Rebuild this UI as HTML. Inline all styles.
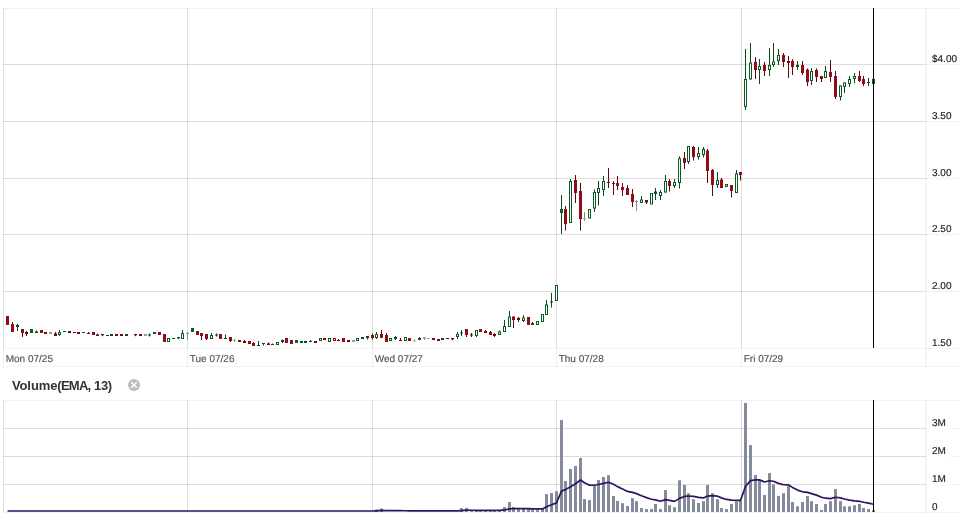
<!DOCTYPE html>
<html lang="en"><head><meta charset="utf-8"><title>Chart</title>
<style>
html,body{margin:0;padding:0;background:#fff;}
body{width:962px;height:517px;overflow:hidden;position:relative;font-family:"Liberation Sans",Arial,sans-serif;}
svg{position:absolute;left:0;top:0;display:block;}
.ax{font-family:"Liberation Sans",Arial,sans-serif;font-size:10px;fill:#1c1c1c;stroke:#1c1c1c;stroke-width:0.15px;text-rendering:geometricPrecision;}
.dt{font-family:"Liberation Sans",Arial,sans-serif;font-size:10px;fill:#555;stroke:#555;stroke-width:0.15px;text-rendering:geometricPrecision;}
.ttl{font-family:"Liberation Sans",Arial,sans-serif;font-size:13px;font-weight:bold;fill:#333;}
</style></head><body>
<svg width="962" height="517" viewBox="0 0 962 517">

<g shape-rendering="crispEdges" fill="#000">
<rect x="3" y="8" width="957" height="1" fill-opacity="0.05"/>
<rect x="3" y="64" width="923" height="1" fill-opacity="0.135"/>
<rect x="926" y="64" width="34" height="1" fill-opacity="0.055"/>
<rect x="3" y="121" width="923" height="1" fill-opacity="0.135"/>
<rect x="926" y="121" width="34" height="1" fill-opacity="0.055"/>
<rect x="3" y="178" width="923" height="1" fill-opacity="0.135"/>
<rect x="926" y="178" width="34" height="1" fill-opacity="0.055"/>
<rect x="3" y="234" width="923" height="1" fill-opacity="0.135"/>
<rect x="926" y="234" width="34" height="1" fill-opacity="0.055"/>
<rect x="3" y="291" width="923" height="1" fill-opacity="0.135"/>
<rect x="926" y="291" width="34" height="1" fill-opacity="0.055"/>
<rect x="3" y="348" width="957" height="1" fill-opacity="0.045"/>
<rect x="3" y="366" width="957" height="1" fill-opacity="0.04"/>
<rect x="3" y="8" width="1" height="340" fill-opacity="0.135"/>
<rect x="3" y="348" width="1" height="19" fill-opacity="0.06"/>
<rect x="187" y="8" width="1" height="340" fill-opacity="0.135"/>
<rect x="187" y="348" width="1" height="19" fill-opacity="0.06"/>
<rect x="372" y="8" width="1" height="340" fill-opacity="0.135"/>
<rect x="372" y="348" width="1" height="19" fill-opacity="0.06"/>
<rect x="556" y="8" width="1" height="340" fill-opacity="0.135"/>
<rect x="556" y="348" width="1" height="19" fill-opacity="0.06"/>
<rect x="741" y="8" width="1" height="340" fill-opacity="0.135"/>
<rect x="741" y="348" width="1" height="19" fill-opacity="0.06"/>
<rect x="925" y="8" width="2" height="359" fill-opacity="0.04"/>
<rect x="3" y="400" width="957" height="1" fill-opacity="0.045"/>
<rect x="3" y="428" width="923" height="1" fill-opacity="0.135"/>
<rect x="950" y="428" width="10" height="1" fill-opacity="0.055"/>
<rect x="3" y="456" width="923" height="1" fill-opacity="0.135"/>
<rect x="950" y="456" width="10" height="1" fill-opacity="0.055"/>
<rect x="3" y="484" width="923" height="1" fill-opacity="0.135"/>
<rect x="950" y="484" width="10" height="1" fill-opacity="0.055"/>
<rect x="3" y="512" width="957" height="1" fill-opacity="0.055"/>
<rect x="3" y="400" width="1" height="112" fill-opacity="0.135"/>
<rect x="187" y="400" width="1" height="112" fill-opacity="0.135"/>
<rect x="372" y="400" width="1" height="112" fill-opacity="0.135"/>
<rect x="556" y="400" width="1" height="112" fill-opacity="0.135"/>
<rect x="741" y="400" width="1" height="112" fill-opacity="0.135"/>
<rect x="925" y="400" width="2" height="113" fill-opacity="0.04"/>
</g>
<text class="ax" x="932" y="62.4">$4.00</text>
<text class="ax" x="932" y="119.4">3.50</text>
<text class="ax" x="932" y="176.4">3.00</text>
<text class="ax" x="932" y="232.4">2.50</text>
<text class="ax" x="932" y="289.4">2.00</text>
<text class="ax" x="932" y="346.4">1.50</text>
<text class="ax" x="932" y="425.5">3M</text>
<text class="ax" x="932" y="453.5">2M</text>
<text class="ax" x="932" y="481.5">1M</text>
<text class="ax" x="932" y="509.5">0</text>
<text class="dt" x="5.7" y="361.9">Mon 07/25</text>
<text class="dt" x="189.8" y="361.9">Tue 07/26</text>
<text class="dt" x="374.7" y="361.9">Wed 07/27</text>
<text class="dt" x="558.7" y="361.9">Thu 07/28</text>
<text class="dt" x="743.7" y="361.9">Fri 07/29</text>
<text class="ttl" x="11.9" y="390.2"><tspan style="letter-spacing:-0.09px">Volume</tspan><tspan style="letter-spacing:-0.75px">(EMA</tspan><tspan style="letter-spacing:-0.38px">, 13)</tspan></text>
<circle cx="134" cy="385" r="6" fill="#bdbdbd"/><path d="M131.2 382.2 L136.8 387.8 M136.8 382.2 L131.2 387.8" stroke="#fff" stroke-width="1.3" fill="none"/>
<g fill="#848b9c">
<rect x="375" y="509.5" width="3" height="2.5"/>
<rect x="380" y="508.5" width="3" height="3.5"/>
<rect x="460" y="508" width="3" height="4"/>
<rect x="465" y="508" width="3" height="4"/>
<rect x="470" y="510.6" width="3" height="1.4"/>
<rect x="475" y="510.6" width="3" height="1.4"/>
<rect x="479" y="510.6" width="3" height="1.4"/>
<rect x="484" y="510.6" width="3" height="1.4"/>
<rect x="489" y="510.6" width="3" height="1.4"/>
<rect x="493" y="510.6" width="3" height="1.4"/>
<rect x="498" y="510.6" width="3" height="1.4"/>
<rect x="503" y="507" width="3" height="5"/>
<rect x="508" y="502" width="3" height="10"/>
<rect x="512" y="507" width="3" height="5"/>
<rect x="517" y="509" width="3" height="3"/>
<rect x="522" y="509" width="3" height="3"/>
<rect x="527" y="509" width="3" height="3"/>
<rect x="531" y="509.5" width="3" height="2.5"/>
<rect x="536" y="509.5" width="3" height="2.5"/>
<rect x="541" y="509" width="3" height="3"/>
<rect x="545" y="494" width="3" height="18"/>
<rect x="550" y="493" width="3" height="19"/>
<rect x="555" y="491.2" width="3" height="20.8"/>
<rect x="560" y="420" width="3" height="92"/>
<rect x="564" y="481" width="3" height="31"/>
<rect x="569" y="469" width="3" height="43"/>
<rect x="574" y="466" width="3" height="46"/>
<rect x="579" y="458" width="3" height="54"/>
<rect x="583" y="499" width="3" height="13"/>
<rect x="588" y="500" width="3" height="12"/>
<rect x="593" y="485.6" width="3" height="26.4"/>
<rect x="597" y="480" width="3" height="32"/>
<rect x="602" y="477" width="3" height="35"/>
<rect x="607" y="475.2" width="3" height="36.8"/>
<rect x="612" y="496" width="3" height="16"/>
<rect x="616" y="501" width="3" height="11"/>
<rect x="621" y="503.2" width="3" height="8.8"/>
<rect x="626" y="506" width="3" height="6"/>
<rect x="631" y="498.2" width="3" height="13.8"/>
<rect x="635" y="501.2" width="3" height="10.8"/>
<rect x="640" y="508" width="3" height="4"/>
<rect x="645" y="509" width="3" height="3"/>
<rect x="650" y="509" width="3" height="3"/>
<rect x="654" y="504" width="3" height="8"/>
<rect x="659" y="509" width="3" height="3"/>
<rect x="664" y="490" width="3" height="22"/>
<rect x="668" y="505.3" width="3" height="6.7"/>
<rect x="673" y="507.2" width="3" height="4.8"/>
<rect x="678" y="480.2" width="3" height="31.8"/>
<rect x="683" y="485" width="3" height="27"/>
<rect x="687" y="493.2" width="3" height="18.8"/>
<rect x="692" y="499.2" width="3" height="12.8"/>
<rect x="697" y="503" width="3" height="9"/>
<rect x="702" y="501.2" width="3" height="10.8"/>
<rect x="706" y="485" width="3" height="27"/>
<rect x="711" y="493.2" width="3" height="18.8"/>
<rect x="716" y="499.2" width="3" height="12.8"/>
<rect x="720" y="508" width="3" height="4"/>
<rect x="725" y="509" width="3" height="3"/>
<rect x="730" y="504" width="3" height="8"/>
<rect x="735" y="501.5" width="3" height="10.5"/>
<rect x="739" y="501" width="3" height="11"/>
<rect x="744" y="403" width="3" height="109"/>
<rect x="749" y="445.2" width="3" height="66.8"/>
<rect x="754" y="475" width="3" height="37"/>
<rect x="758" y="480.2" width="3" height="31.8"/>
<rect x="763" y="495" width="3" height="17"/>
<rect x="768" y="473" width="3" height="39"/>
<rect x="772" y="484.3" width="3" height="27.7"/>
<rect x="777" y="496" width="3" height="16"/>
<rect x="782" y="493.2" width="3" height="18.8"/>
<rect x="787" y="486.2" width="3" height="25.8"/>
<rect x="791" y="502" width="3" height="10"/>
<rect x="796" y="506.3" width="3" height="5.7"/>
<rect x="801" y="502" width="3" height="10"/>
<rect x="806" y="496" width="3" height="16"/>
<rect x="810" y="501.2" width="3" height="10.8"/>
<rect x="815" y="504" width="3" height="8"/>
<rect x="820" y="510" width="3" height="2"/>
<rect x="824" y="504" width="3" height="8"/>
<rect x="829" y="501.2" width="3" height="10.8"/>
<rect x="834" y="489" width="3" height="23"/>
<rect x="839" y="501.2" width="3" height="10.8"/>
<rect x="843" y="506.3" width="3" height="5.7"/>
<rect x="848" y="506.3" width="3" height="5.7"/>
<rect x="853" y="505.3" width="3" height="6.7"/>
<rect x="858" y="504" width="3" height="8"/>
<rect x="862" y="508" width="3" height="4"/>
<rect x="867" y="509" width="3" height="3"/>
<rect x="872" y="510.3" width="3" height="1.7"/>
</g>
<path d="M7.5 511 L12.5 511 L17.5 511 L22.5 511 L26.5 511 L31.5 511 L36.5 511 L41.5 511 L45.5 511 L50.5 511 L55.5 511 L59.5 511 L64.5 511 L69.5 511 L74.5 511 L78.5 511 L83.5 511 L88.5 511 L93.5 511 L97.5 511 L102.5 511 L107.5 511 L111.5 511 L116.5 511 L121.5 511 L126.5 511 L130.5 511 L135.5 511 L140.5 511 L145.5 511 L149.5 511 L154.5 511 L159.5 511 L164.5 511 L168.5 511 L173.5 511 L178.5 511 L182.5 511 L187.5 511 L192.5 511 L197.5 511 L201.5 511 L206.5 511 L211.5 511 L216.5 511 L220.5 511 L225.5 511 L230.5 511 L234.5 511 L239.5 511 L244.5 511 L249.5 511 L253.5 511 L258.5 511 L263.5 511 L268.5 511 L272.5 511 L277.5 511 L282.5 511 L286.5 511 L291.5 511 L296.5 511 L301.5 511 L305.5 511 L310.5 511 L315.5 511 L320.5 511 L324.5 511 L329.5 511 L334.5 511 L338.5 511 L343.5 511 L348.5 511 L353.5 511 L357.5 511 L362.5 511 L367.5 511 L372.5 511 L376.5 510.79 L381.5 510.46 L386.5 510.54 L390.5 510.6 L395.5 510.66 L400.5 510.71 L405.5 510.75 L409.5 510.79 L414.5 510.82 L419.5 510.84 L424.5 510.86 L428.5 510.88 L433.5 510.9 L438.5 510.91 L442.5 510.93 L447.5 510.94 L452.5 510.95 L457.5 510.95 L461.5 510.53 L466.5 510.17 L471.5 510.23 L476.5 510.28 L480.5 510.33 L485.5 510.37 L490.5 510.4 L494.5 510.43 L499.5 510.45 L504.5 509.96 L509.5 508.82 L513.5 508.56 L518.5 508.63 L523.5 508.68 L528.5 508.72 L532.5 508.84 L537.5 508.93 L542.5 508.94 L546.5 506.81 L551.5 504.83 L556.5 502.89 L561.5 491.05 L565.5 489.61 L570.5 486.67 L575.5 483.71 L580.5 480.04 L584.5 482.75 L589.5 485.21 L594.5 485.27 L598.5 484.52 L603.5 483.44 L608.5 482.26 L613.5 484.23 L617.5 486.62 L622.5 488.99 L627.5 491.42 L632.5 492.39 L636.5 493.65 L641.5 495.7 L646.5 497.6 L651.5 499.23 L655.5 499.91 L660.5 501.21 L665.5 499.61 L669.5 500.42 L674.5 501.39 L679.5 498.36 L684.5 496.45 L688.5 495.99 L693.5 496.45 L698.5 497.38 L703.5 497.93 L707.5 496.08 L712.5 495.67 L717.5 496.17 L721.5 497.86 L726.5 499.45 L731.5 500.1 L736.5 500.3 L740.5 500.4 L745.5 486.49 L750.5 480.59 L755.5 479.79 L759.5 479.85 L764.5 482.01 L769.5 480.73 L773.5 481.24 L778.5 483.35 L783.5 484.75 L788.5 484.96 L792.5 487.39 L797.5 490.1 L802.5 491.8 L807.5 492.4 L811.5 493.65 L816.5 495.13 L821.5 497.26 L825.5 498.22 L830.5 498.65 L835.5 497.27 L840.5 497.83 L844.5 499.04 L849.5 500.08 L854.5 500.82 L859.5 501.28 L863.5 502.24 L868.5 503.2 L873.5 504.22" fill="none" stroke="#2e1460" stroke-width="1.7" stroke-linejoin="round" stroke-linecap="butt"/>
<g>
<rect x="6" y="316" width="3" height="9" fill="#920c18"/>
<rect x="12" y="322" width="1" height="10" fill="#5e0810"/>
<rect x="11" y="324" width="3" height="8" fill="#920c18"/>
<rect x="17" y="323.8" width="1" height="7.2" fill="#0a4a1c"/>
<rect x="16" y="325" width="3" height="2" fill="#0a4f1e"/>
<rect x="22" y="329" width="1" height="8" fill="#5e0810"/>
<rect x="21" y="329" width="3" height="4" fill="#920c18"/>
<rect x="26" y="331" width="1" height="5" fill="#5e0810"/>
<rect x="25" y="332" width="3" height="2" fill="#6e0a12"/>
<rect x="30" y="329" width="3" height="4" fill="#0b5a22"/>
<rect x="36" y="330.5" width="1" height="2.5" fill="#0a4a1c"/>
<rect x="35" y="331.5" width="3" height="1.5" fill="#0a4f1e"/>
<rect x="40" y="330" width="3" height="3" fill="#920c18"/>
<rect x="44" y="332" width="3" height="2" fill="#6e0a12"/>
<rect x="49" y="332" width="3" height="2" fill="#999999"/>
<rect x="55" y="332" width="1" height="4" fill="#5e0810"/>
<rect x="54" y="333.5" width="3" height="2.5" fill="#6e0a12"/>
<rect x="59" y="330" width="1" height="6" fill="#0a4a1c"/>
<rect x="58" y="332" width="3" height="3" fill="#0b5a22"/>
<rect x="59" y="333" width="1" height="1" fill="#fff"/>
<rect x="63" y="331" width="3" height="1" fill="#0a4f1e"/>
<rect x="68" y="331" width="3" height="2" fill="#6e0a12"/>
<rect x="73" y="332" width="3" height="1" fill="#6e0a12"/>
<rect x="77" y="332" width="3" height="2" fill="#6e0a12"/>
<rect x="82" y="332" width="3" height="1" fill="#0a4f1e"/>
<rect x="88" y="332" width="1" height="2" fill="#5e0810"/>
<rect x="87" y="333" width="3" height="1" fill="#6e0a12"/>
<rect x="92" y="332" width="3" height="3" fill="#920c18"/>
<rect x="97" y="333.5" width="1" height="2.5" fill="#5e0810"/>
<rect x="96" y="334.5" width="3" height="1.5" fill="#6e0a12"/>
<rect x="102" y="334" width="1" height="2.2" fill="#0a4a1c"/>
<rect x="101" y="334" width="3" height="1.3" fill="#0a4f1e"/>
<rect x="106" y="335" width="3" height="1" fill="#6e0a12"/>
<rect x="110" y="334" width="3" height="2" fill="#0a4f1e"/>
<rect x="115" y="334" width="3" height="2" fill="#6e0a12"/>
<rect x="120" y="334" width="3" height="2" fill="#6e0a12"/>
<rect x="125" y="334" width="3" height="2" fill="#0a4f1e"/>
<rect x="135" y="334" width="1" height="2.2" fill="#5e0810"/>
<rect x="134" y="334" width="3" height="1.3" fill="#6e0a12"/>
<rect x="139" y="334" width="3" height="2" fill="#6e0a12"/>
<rect x="144" y="334" width="3" height="2" fill="#999999"/>
<rect x="149" y="333.5" width="1" height="3" fill="#0a4a1c"/>
<rect x="148" y="334.5" width="3" height="1" fill="#0a4f1e"/>
<rect x="153" y="332" width="3" height="2" fill="#0a4f1e"/>
<rect x="158" y="332" width="3" height="3" fill="#920c18"/>
<rect x="163" y="334" width="3" height="8" fill="#920c18"/>
<rect x="167" y="338" width="3" height="4" fill="#0b5a22"/>
<rect x="168" y="339" width="1" height="2" fill="#fff"/>
<rect x="172" y="338" width="3" height="1" fill="#0a4f1e"/>
<rect x="178" y="337" width="1" height="2.2" fill="#0a4a1c"/>
<rect x="177" y="337" width="3" height="1.3" fill="#0a4f1e"/>
<rect x="182" y="330" width="1" height="9" fill="#0a4a1c"/>
<rect x="181" y="333" width="3" height="6" fill="#0b5a22"/>
<rect x="182" y="334" width="1" height="4" fill="#fff"/>
<rect x="187" y="332" width="1" height="7.5" fill="#8a8a8a"/>
<rect x="186" y="333" width="3" height="1" fill="#999999"/>
<rect x="191" y="328" width="3" height="4" fill="#0b5a22"/>
<rect x="196" y="331" width="3" height="4" fill="#920c18"/>
<rect x="201" y="333" width="1" height="7" fill="#5e0810"/>
<rect x="200" y="333" width="3" height="3" fill="#920c18"/>
<rect x="206" y="334" width="1" height="6" fill="#5e0810"/>
<rect x="205" y="334" width="3" height="5" fill="#920c18"/>
<rect x="211" y="333" width="1" height="6" fill="#0a4a1c"/>
<rect x="210" y="335" width="3" height="4" fill="#0b5a22"/>
<rect x="211" y="336" width="1" height="2" fill="#fff"/>
<rect x="216" y="333.5" width="1" height="3" fill="#0a4a1c"/>
<rect x="215" y="334.5" width="3" height="1" fill="#0a4f1e"/>
<rect x="219" y="334" width="3" height="5" fill="#920c18"/>
<rect x="225" y="334.5" width="1" height="4.5" fill="#0a4a1c"/>
<rect x="224" y="338" width="3" height="1" fill="#0a4f1e"/>
<rect x="230" y="337" width="1" height="5" fill="#5e0810"/>
<rect x="229" y="337" width="3" height="4" fill="#920c18"/>
<rect x="234" y="339.5" width="1" height="2.5" fill="#8a8a8a"/>
<rect x="233" y="339.5" width="3" height="1" fill="#999999"/>
<rect x="238" y="340" width="3" height="2" fill="#6e0a12"/>
<rect x="244" y="340" width="1" height="3" fill="#5e0810"/>
<rect x="243" y="341" width="3" height="2" fill="#6e0a12"/>
<rect x="248" y="341" width="3" height="3" fill="#920c18"/>
<rect x="253" y="342" width="1" height="4" fill="#5e0810"/>
<rect x="252" y="343" width="3" height="3" fill="#920c18"/>
<rect x="258" y="341" width="1" height="5" fill="#0a4a1c"/>
<rect x="257" y="345" width="3" height="1" fill="#0a4f1e"/>
<rect x="263" y="343" width="1" height="2.5" fill="#0a4a1c"/>
<rect x="262" y="343" width="3" height="1" fill="#0a4f1e"/>
<rect x="268" y="342.5" width="1" height="2.5" fill="#5e0810"/>
<rect x="267" y="343.5" width="3" height="1.5" fill="#6e0a12"/>
<rect x="272" y="343.5" width="1" height="1.5" fill="#0a4a1c"/>
<rect x="271" y="344" width="3" height="1" fill="#0a4f1e"/>
<rect x="276" y="342" width="3" height="3" fill="#0b5a22"/>
<rect x="277" y="343" width="1" height="1" fill="#fff"/>
<rect x="282" y="339.5" width="1" height="3.5" fill="#0a4a1c"/>
<rect x="281" y="340" width="3" height="2" fill="#0a4f1e"/>
<rect x="285" y="338" width="3" height="5" fill="#920c18"/>
<rect x="290" y="340" width="3" height="4" fill="#920c18"/>
<rect x="295" y="340" width="3" height="3" fill="#0b5a22"/>
<rect x="300" y="341" width="3" height="2" fill="#0a4f1e"/>
<rect x="304" y="341" width="3" height="2" fill="#0a4f1e"/>
<rect x="310" y="340" width="1" height="2" fill="#0a4a1c"/>
<rect x="309" y="341" width="3" height="1" fill="#0a4f1e"/>
<rect x="314" y="341" width="3" height="2" fill="#6e0a12"/>
<rect x="319" y="338" width="3" height="3" fill="#0b5a22"/>
<rect x="320" y="339" width="1" height="1" fill="#fff"/>
<rect x="323" y="338" width="3" height="2" fill="#6e0a12"/>
<rect x="328" y="338" width="3" height="4" fill="#0b5a22"/>
<rect x="329" y="339" width="1" height="2" fill="#fff"/>
<rect x="333" y="338" width="3" height="3" fill="#920c18"/>
<rect x="334" y="339" width="1" height="1" fill="#fff"/>
<rect x="338" y="339" width="1" height="2" fill="#5e0810"/>
<rect x="337" y="340" width="3" height="1" fill="#6e0a12"/>
<rect x="342" y="338" width="3" height="4" fill="#920c18"/>
<rect x="347" y="340" width="3" height="2" fill="#6e0a12"/>
<rect x="352" y="340" width="3" height="2" fill="#999999"/>
<rect x="356" y="338" width="3" height="3" fill="#0b5a22"/>
<rect x="357" y="339" width="1" height="1" fill="#fff"/>
<rect x="361" y="337" width="3" height="2" fill="#0a4f1e"/>
<rect x="367" y="336" width="1" height="3.5" fill="#0a4a1c"/>
<rect x="366" y="336" width="3" height="2" fill="#0a4f1e"/>
<rect x="372" y="333.5" width="1" height="6" fill="#5e0810"/>
<rect x="371" y="335" width="3" height="3" fill="#920c18"/>
<rect x="376" y="332" width="1" height="7" fill="#0a4a1c"/>
<rect x="375" y="334" width="3" height="4" fill="#0b5a22"/>
<rect x="376" y="335" width="1" height="2" fill="#fff"/>
<rect x="381" y="330" width="1" height="8" fill="#5e0810"/>
<rect x="380" y="334" width="3" height="4" fill="#920c18"/>
<rect x="386" y="333" width="1" height="9" fill="#5e0810"/>
<rect x="385" y="335" width="3" height="7" fill="#920c18"/>
<rect x="389" y="338" width="3" height="3" fill="#0b5a22"/>
<rect x="390" y="339" width="1" height="1" fill="#fff"/>
<rect x="395" y="336" width="1" height="4" fill="#0a4a1c"/>
<rect x="394" y="337" width="3" height="2" fill="#0a4f1e"/>
<rect x="400" y="338" width="1" height="3" fill="#5e0810"/>
<rect x="399" y="340" width="3" height="1" fill="#6e0a12"/>
<rect x="404" y="337" width="3" height="4" fill="#0b5a22"/>
<rect x="405" y="338" width="1" height="2" fill="#fff"/>
<rect x="408" y="338" width="3" height="3" fill="#920c18"/>
<rect x="414" y="339.3" width="1" height="1.9" fill="#86ad95"/>
<rect x="413" y="340.4" width="3" height="1" fill="#86ad95"/>
<rect x="419" y="337" width="1" height="3" fill="#0a4a1c"/>
<rect x="418" y="338" width="3" height="2" fill="#0a4f1e"/>
<rect x="424" y="337" width="1" height="3" fill="#8a8a8a"/>
<rect x="423" y="337" width="3" height="1.5" fill="#999999"/>
<rect x="427" y="338" width="3" height="1" fill="#999999"/>
<rect x="432" y="338" width="3" height="2" fill="#6e0a12"/>
<rect x="437" y="339" width="3" height="2" fill="#6e0a12"/>
<rect x="441" y="338" width="3" height="2" fill="#0a4f1e"/>
<rect x="446" y="338" width="3" height="1" fill="#6e0a12"/>
<rect x="452" y="338" width="1" height="2.2" fill="#5e0810"/>
<rect x="451" y="338" width="3" height="1.3" fill="#6e0a12"/>
<rect x="457" y="332" width="1" height="7" fill="#0a4a1c"/>
<rect x="456" y="334" width="3" height="3" fill="#0b5a22"/>
<rect x="457" y="335" width="1" height="1" fill="#fff"/>
<rect x="461" y="330" width="1" height="6" fill="#0a4a1c"/>
<rect x="460" y="332.5" width="3" height="1" fill="#0a4f1e"/>
<rect x="466" y="329" width="1" height="8" fill="#5e0810"/>
<rect x="465" y="329" width="3" height="6" fill="#920c18"/>
<rect x="471" y="333" width="1" height="4" fill="#5e0810"/>
<rect x="470" y="334.5" width="3" height="1" fill="#6e0a12"/>
<rect x="476" y="330" width="1" height="7" fill="#0a4a1c"/>
<rect x="475" y="330" width="3" height="6" fill="#0b5a22"/>
<rect x="476" y="331" width="1" height="4" fill="#fff"/>
<rect x="479" y="329" width="3" height="3" fill="#920c18"/>
<rect x="485" y="330" width="1" height="3" fill="#5e0810"/>
<rect x="484" y="331" width="3" height="2" fill="#6e0a12"/>
<rect x="490" y="331" width="1" height="4" fill="#5e0810"/>
<rect x="489" y="332" width="3" height="3" fill="#920c18"/>
<rect x="494" y="333" width="1" height="4" fill="#5e0810"/>
<rect x="493" y="334" width="3" height="2" fill="#6e0a12"/>
<rect x="499" y="330.5" width="1" height="4.5" fill="#0a4a1c"/>
<rect x="498" y="331.5" width="3" height="3.5" fill="#0b5a22"/>
<rect x="499" y="332.5" width="1" height="1.5" fill="#fff"/>
<rect x="504" y="320" width="1" height="12" fill="#0a4a1c"/>
<rect x="503" y="326" width="3" height="6" fill="#0b5a22"/>
<rect x="504" y="327" width="1" height="4" fill="#fff"/>
<rect x="509" y="311" width="1" height="16" fill="#0a4a1c"/>
<rect x="508" y="316.5" width="3" height="10.5" fill="#0b5a22"/>
<rect x="509" y="317.5" width="1" height="8.5" fill="#fff"/>
<rect x="513" y="316.5" width="1" height="11.5" fill="#5e0810"/>
<rect x="512" y="316.5" width="3" height="3.5" fill="#920c18"/>
<rect x="518" y="317" width="1" height="5" fill="#5e0810"/>
<rect x="517" y="318" width="3" height="2" fill="#6e0a12"/>
<rect x="523" y="315.2" width="1" height="6.8" fill="#0a4a1c"/>
<rect x="522" y="317.5" width="3" height="3.5" fill="#0b5a22"/>
<rect x="523" y="318.5" width="1" height="1.5" fill="#fff"/>
<rect x="527" y="317" width="3" height="8" fill="#920c18"/>
<rect x="532" y="322" width="1" height="3" fill="#0a4a1c"/>
<rect x="531" y="323" width="3" height="2" fill="#0a4f1e"/>
<rect x="536" y="321" width="3" height="4" fill="#0b5a22"/>
<rect x="537" y="322" width="1" height="2" fill="#fff"/>
<rect x="541" y="314" width="3" height="8" fill="#0b5a22"/>
<rect x="542" y="315" width="1" height="6" fill="#fff"/>
<rect x="546" y="300" width="1" height="15" fill="#0a4a1c"/>
<rect x="545" y="304.5" width="3" height="10.5" fill="#0b5a22"/>
<rect x="546" y="305.5" width="1" height="8.5" fill="#fff"/>
<rect x="551" y="293" width="1" height="14.5" fill="#0a4a1c"/>
<rect x="550" y="301.4" width="3" height="1" fill="#0a4f1e"/>
<rect x="555" y="285" width="3" height="16" fill="#0b5a22"/>
<rect x="556" y="286" width="1" height="14" fill="#fff"/>
<rect x="561" y="195" width="1" height="39" fill="#0a4a1c"/>
<rect x="560" y="209" width="3" height="4" fill="#0b5a22"/>
<rect x="565" y="206" width="1" height="24.5" fill="#5e0810"/>
<rect x="564" y="209" width="3" height="15" fill="#920c18"/>
<rect x="570" y="179" width="1" height="44" fill="#0a4a1c"/>
<rect x="569" y="181" width="3" height="42" fill="#0b5a22"/>
<rect x="570" y="182" width="1" height="40" fill="#fff"/>
<rect x="575" y="175" width="1" height="28" fill="#5e0810"/>
<rect x="574" y="180" width="3" height="13" fill="#920c18"/>
<rect x="580" y="183" width="1" height="47.5" fill="#5e0810"/>
<rect x="579" y="191" width="3" height="28" fill="#920c18"/>
<rect x="584" y="212" width="1" height="9" fill="#8a8a8a"/>
<rect x="583" y="218" width="3" height="1" fill="#999999"/>
<rect x="588" y="209" width="3" height="9.5" fill="#0b5a22"/>
<rect x="589" y="210" width="1" height="7.5" fill="#fff"/>
<rect x="594" y="189.5" width="1" height="22.5" fill="#0a4a1c"/>
<rect x="593" y="192" width="3" height="16.5" fill="#0b5a22"/>
<rect x="594" y="193" width="1" height="14.5" fill="#fff"/>
<rect x="598" y="181" width="1" height="24.5" fill="#0a4a1c"/>
<rect x="597" y="188" width="3" height="5" fill="#0b5a22"/>
<rect x="598" y="189" width="1" height="3" fill="#fff"/>
<rect x="603" y="176" width="1" height="20" fill="#0a4a1c"/>
<rect x="602" y="181" width="3" height="9" fill="#0b5a22"/>
<rect x="603" y="182" width="1" height="7" fill="#fff"/>
<rect x="608" y="168" width="1" height="20" fill="#5e0810"/>
<rect x="607" y="182" width="3" height="1" fill="#6e0a12"/>
<rect x="613" y="181" width="1" height="14" fill="#5e0810"/>
<rect x="612" y="183" width="3" height="1" fill="#6e0a12"/>
<rect x="617" y="176" width="1" height="14" fill="#5e0810"/>
<rect x="616" y="183" width="3" height="3" fill="#920c18"/>
<rect x="622" y="183" width="1" height="13" fill="#5e0810"/>
<rect x="621" y="187" width="3" height="3" fill="#920c18"/>
<rect x="627" y="185" width="1" height="10" fill="#5e0810"/>
<rect x="626" y="188" width="3" height="7" fill="#920c18"/>
<rect x="632" y="189" width="1" height="18" fill="#5e0810"/>
<rect x="631" y="194" width="3" height="8" fill="#920c18"/>
<rect x="636" y="200" width="1" height="11" fill="#8a8a8a"/>
<rect x="635" y="201" width="3" height="1" fill="#999999"/>
<rect x="641" y="196" width="1" height="7" fill="#0a4a1c"/>
<rect x="640" y="199.5" width="3" height="3.5" fill="#0b5a22"/>
<rect x="641" y="200.5" width="1" height="1.5" fill="#fff"/>
<rect x="646" y="200" width="1" height="4" fill="#5e0810"/>
<rect x="645" y="200" width="3" height="2.5" fill="#6e0a12"/>
<rect x="650" y="193" width="3" height="11.5" fill="#0b5a22"/>
<rect x="651" y="194" width="1" height="9.5" fill="#fff"/>
<rect x="655" y="188" width="1" height="12" fill="#0a4a1c"/>
<rect x="654" y="191.5" width="3" height="2.5" fill="#0a4f1e"/>
<rect x="660" y="190" width="1" height="10" fill="#0a4a1c"/>
<rect x="659" y="192" width="3" height="4" fill="#0b5a22"/>
<rect x="660" y="193" width="1" height="2" fill="#fff"/>
<rect x="665" y="175" width="1" height="17.5" fill="#0a4a1c"/>
<rect x="664" y="181" width="3" height="11.5" fill="#0b5a22"/>
<rect x="665" y="182" width="1" height="9.5" fill="#fff"/>
<rect x="669" y="179" width="1" height="12.5" fill="#5e0810"/>
<rect x="668" y="181" width="3" height="5" fill="#920c18"/>
<rect x="674" y="179" width="1" height="9" fill="#0a4a1c"/>
<rect x="673" y="182" width="3" height="4" fill="#0b5a22"/>
<rect x="674" y="183" width="1" height="2" fill="#fff"/>
<rect x="679" y="156.3" width="1" height="32.2" fill="#0a4a1c"/>
<rect x="678" y="158.3" width="3" height="24.7" fill="#0b5a22"/>
<rect x="679" y="159.3" width="1" height="22.7" fill="#fff"/>
<rect x="684" y="152" width="1" height="17" fill="#5e0810"/>
<rect x="683" y="158" width="3" height="5" fill="#920c18"/>
<rect x="688" y="146" width="1" height="18" fill="#0a4a1c"/>
<rect x="687" y="146" width="3" height="16" fill="#0b5a22"/>
<rect x="688" y="147" width="1" height="14" fill="#fff"/>
<rect x="693" y="146" width="1" height="14.5" fill="#5e0810"/>
<rect x="692" y="147" width="3" height="10" fill="#920c18"/>
<rect x="698" y="147" width="1" height="12.5" fill="#0a4a1c"/>
<rect x="697" y="153" width="3" height="4" fill="#0b5a22"/>
<rect x="698" y="154" width="1" height="2" fill="#fff"/>
<rect x="703" y="147" width="1" height="10.5" fill="#0a4a1c"/>
<rect x="702" y="149" width="3" height="6" fill="#0b5a22"/>
<rect x="703" y="150" width="1" height="4" fill="#fff"/>
<rect x="707" y="149" width="1" height="34" fill="#5e0810"/>
<rect x="706" y="150.5" width="3" height="20.5" fill="#920c18"/>
<rect x="712" y="169" width="1" height="27" fill="#5e0810"/>
<rect x="711" y="170" width="3" height="15" fill="#920c18"/>
<rect x="717" y="172" width="1" height="16" fill="#0a4a1c"/>
<rect x="716" y="180" width="3" height="5" fill="#0b5a22"/>
<rect x="717" y="181" width="1" height="3" fill="#fff"/>
<rect x="721" y="178" width="1" height="10" fill="#5e0810"/>
<rect x="720" y="179.5" width="3" height="8.5" fill="#920c18"/>
<rect x="725" y="184" width="3" height="3" fill="#0b5a22"/>
<rect x="726" y="185" width="1" height="1" fill="#fff"/>
<rect x="731" y="185" width="1" height="12.5" fill="#5e0810"/>
<rect x="730" y="185" width="3" height="6" fill="#920c18"/>
<rect x="736" y="170" width="1" height="23" fill="#0a4a1c"/>
<rect x="735" y="173.5" width="3" height="19.5" fill="#0b5a22"/>
<rect x="736" y="174.5" width="1" height="17.5" fill="#fff"/>
<rect x="740" y="172" width="1" height="8.5" fill="#5e0810"/>
<rect x="739" y="172" width="3" height="3" fill="#920c18"/>
<rect x="745" y="49" width="1" height="61" fill="#0a4a1c"/>
<rect x="744" y="79" width="3" height="28" fill="#0b5a22"/>
<rect x="745" y="80" width="1" height="26" fill="#fff"/>
<rect x="750" y="43" width="1" height="36.5" fill="#0a4a1c"/>
<rect x="749" y="62.5" width="3" height="17" fill="#0b5a22"/>
<rect x="750" y="63.5" width="1" height="15" fill="#fff"/>
<rect x="755" y="57" width="1" height="22" fill="#5e0810"/>
<rect x="754" y="62" width="3" height="8" fill="#920c18"/>
<rect x="759" y="59" width="1" height="25" fill="#0a4a1c"/>
<rect x="758" y="66" width="3" height="4" fill="#0b5a22"/>
<rect x="759" y="67" width="1" height="2" fill="#fff"/>
<rect x="764" y="62" width="1" height="14" fill="#5e0810"/>
<rect x="763" y="65" width="3" height="6" fill="#920c18"/>
<rect x="769" y="48" width="1" height="28" fill="#0a4a1c"/>
<rect x="768" y="65" width="3" height="5" fill="#0b5a22"/>
<rect x="769" y="66" width="1" height="3" fill="#fff"/>
<rect x="773" y="43" width="1" height="24" fill="#0a4a1c"/>
<rect x="772" y="61.5" width="3" height="3.5" fill="#0b5a22"/>
<rect x="773" y="62.5" width="1" height="1.5" fill="#fff"/>
<rect x="778" y="49" width="1" height="16" fill="#0a4a1c"/>
<rect x="777" y="55" width="3" height="6" fill="#0b5a22"/>
<rect x="778" y="56" width="1" height="4" fill="#fff"/>
<rect x="783" y="53" width="1" height="14" fill="#5e0810"/>
<rect x="782" y="55" width="3" height="7" fill="#920c18"/>
<rect x="788" y="56" width="1" height="22" fill="#5e0810"/>
<rect x="787" y="61" width="3" height="2" fill="#6e0a12"/>
<rect x="792" y="59" width="1" height="16" fill="#5e0810"/>
<rect x="791" y="61" width="3" height="6" fill="#920c18"/>
<rect x="797" y="61" width="1" height="9" fill="#0a4a1c"/>
<rect x="796" y="65" width="3" height="2" fill="#0a4f1e"/>
<rect x="802" y="61" width="1" height="14" fill="#5e0810"/>
<rect x="801" y="65" width="3" height="8" fill="#920c18"/>
<rect x="807" y="68.5" width="1" height="17.5" fill="#5e0810"/>
<rect x="806" y="69.5" width="3" height="12.5" fill="#920c18"/>
<rect x="811" y="68" width="1" height="17" fill="#0a4a1c"/>
<rect x="810" y="71" width="3" height="10" fill="#0b5a22"/>
<rect x="811" y="72" width="1" height="8" fill="#fff"/>
<rect x="816" y="68.5" width="1" height="13.5" fill="#5e0810"/>
<rect x="815" y="70" width="3" height="7" fill="#920c18"/>
<rect x="821" y="76" width="1" height="6" fill="#5e0810"/>
<rect x="820" y="76" width="3" height="3" fill="#920c18"/>
<rect x="825" y="66" width="1" height="12" fill="#0a4a1c"/>
<rect x="824" y="71" width="3" height="7" fill="#0b5a22"/>
<rect x="825" y="72" width="1" height="5" fill="#fff"/>
<rect x="830" y="60" width="1" height="22" fill="#5e0810"/>
<rect x="829" y="72" width="3" height="5" fill="#920c18"/>
<rect x="835" y="71" width="1" height="28" fill="#5e0810"/>
<rect x="834" y="76" width="3" height="21" fill="#920c18"/>
<rect x="840" y="85.5" width="1" height="15" fill="#0a4a1c"/>
<rect x="839" y="85.5" width="3" height="11.5" fill="#0b5a22"/>
<rect x="840" y="86.5" width="1" height="9.5" fill="#fff"/>
<rect x="844" y="82.5" width="1" height="10.5" fill="#0a4a1c"/>
<rect x="843" y="82.5" width="3" height="4.5" fill="#0b5a22"/>
<rect x="844" y="83.5" width="1" height="2.5" fill="#fff"/>
<rect x="849" y="76" width="1" height="11" fill="#0a4a1c"/>
<rect x="848" y="79" width="3" height="5" fill="#0b5a22"/>
<rect x="849" y="80" width="1" height="3" fill="#fff"/>
<rect x="854" y="73" width="1" height="10" fill="#0a4a1c"/>
<rect x="853" y="76" width="3" height="3" fill="#0b5a22"/>
<rect x="854" y="77" width="1" height="1" fill="#fff"/>
<rect x="859" y="71" width="1" height="11" fill="#5e0810"/>
<rect x="858" y="76" width="3" height="5" fill="#920c18"/>
<rect x="863" y="76" width="1" height="10" fill="#5e0810"/>
<rect x="862" y="79" width="3" height="5" fill="#920c18"/>
<rect x="868" y="78" width="1" height="8" fill="#0a4a1c"/>
<rect x="867" y="82" width="3" height="1" fill="#0a4f1e"/>
<rect x="872" y="79" width="3" height="5" fill="#0b5a22"/>
</g>
<rect x="873" y="8" width="1" height="340" fill="#000" shape-rendering="crispEdges"/>
<rect x="873" y="400" width="1" height="112" fill="#000" shape-rendering="crispEdges"/>
</svg></body></html>
